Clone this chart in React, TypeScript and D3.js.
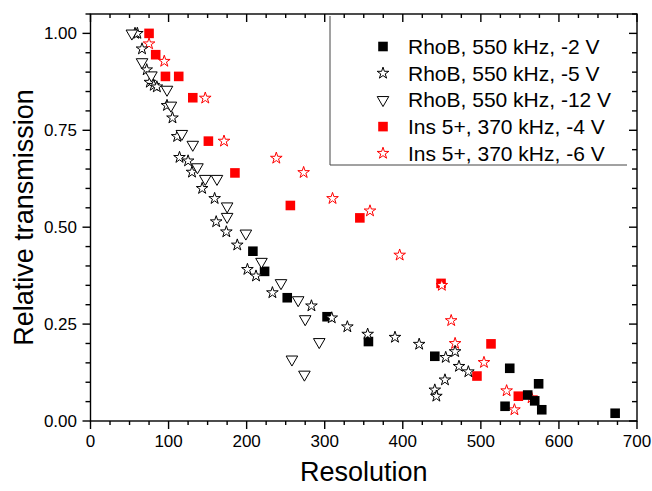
import * as d3 from 'd3';
import React, { useEffect, useRef } from 'react';

// values: [resolution, relative transmission]
const rhobMinus2: [number, number][] = [
    [208, 0.438], [223, 0.386], [252, 0.318], [303, 0.269], [356, 0.205], [441, 0.167], [537, 0.136],
    [531, 0.038], [560, 0.067], [569, 0.052], [574, 0.096], [578, 0.029], [672, 0.020],
];
const rhobMinus5: [number, number][] = [
    [57, 1.0], [60, 1.0], [66, 0.96], [72, 0.906], [76, 0.874], [81, 0.866], [85, 0.862], [98, 0.814],
    [105, 0.782], [111, 0.734], [114, 0.68], [125, 0.671], [130, 0.642], [143, 0.6], [159, 0.574],
    [161, 0.514], [174, 0.488], [188, 0.454], [201, 0.391], [212, 0.374], [233, 0.331], [283, 0.297],
    [309, 0.266], [329, 0.243], [355, 0.224], [390, 0.216], [421, 0.198], [441, 0.080], [443, 0.064],
    [454, 0.106], [455, 0.164], [467, 0.179], [472, 0.141], [484, 0.127],
];
const rhobMinus12: [number, number][] = [
    [53, 1.0], [66, 0.926], [78, 0.892], [98, 0.855], [103, 0.814], [117, 0.741], [131, 0.713],
    [137, 0.655], [147, 0.625], [162, 0.625], [175, 0.554], [175, 0.527], [199, 0.484], [219, 0.411],
    [244, 0.356], [266, 0.312], [275, 0.263], [293, 0.204], [258, 0.159], [274, 0.120],
];
const insMinus4: [number, number][] = [
    [75, 1.0], [83.5, 0.945], [96, 0.889], [113, 0.889], [131, 0.834], [151, 0.722], [185, 0.64],
    [256, 0.556], [345, 0.524], [449, 0.355], [513, 0.199], [495, 0.116], [548, 0.064],
];
const insMinus6: [number, number][] = [
    [75, 0.973], [94.5, 0.928], [147, 0.833], [171, 0.722], [238, 0.678], [273, 0.641], [310, 0.574],
    [358, 0.542], [396, 0.428], [450, 0.35], [462, 0.259], [467, 0.2], [504, 0.151], [533, 0.078],
    [543, 0.029], [565, 0.06],
];

const xTicks = [0, 100, 200, 300, 400, 500, 600, 700];
const yTicks = [0, 0.25, 0.5, 0.75, 1.0];

const legendLabels = [
    'RhoB, 550 kHz, -2 V',
    'RhoB, 550 kHz, -5 V',
    'RhoB, 550 kHz, -12 V',
    'Ins 5+, 370 kHz, -4 V',
    'Ins 5+, 370 kHz, -6 V',
];

const WIDTH = 652;
const HEIGHT = 491;
const FONT = '"Liberation Sans", Arial, sans-serif';

export default function App() {
    const svgRef = useRef<SVGSVGElement>(null);

    useEffect(() => {
        const svg = d3.select(svgRef.current);
        svg.selectAll('*').remove();

        const left = 90.5, right = 637, top = 14, bottom = 421;
        const x = d3.scaleLinear().domain([0, 700]).range([left, right]);
        const y = d3.scaleLinear().domain([0, 1.05]).range([bottom, top]);

        // marker painters, one per series style
        const square = d3.symbol().type(d3.symbolSquare).size(92)();
        const star = d3.symbol().type(d3.symbolStar).size(42)();
        const tri = d3.symbol().type(d3.symbolTriangle).size(58)();

        const styles = [
            { path: square, fill: '#000', stroke: 'none', rot: 0 },
            { path: star, fill: '#fff', stroke: '#000', rot: 0 },
            { path: tri, fill: '#fff', stroke: '#000', rot: 180 },
            { path: square, fill: '#f00', stroke: 'none', rot: 0 },
            { path: star, fill: '#fff', stroke: '#f00', rot: 0 },
        ];
        const seriesData = [rhobMinus2, rhobMinus5, rhobMinus12, insMinus4, insMinus6];

        // draw order: red first, black squares over them, open symbols on top
        const order = [3, 4, 0, 1, 2];
        order.forEach((si) => {
            const st = styles[si];
            svg.append('g')
                .selectAll('path')
                .data(seriesData[si])
                .join('path')
                .attr('d', st.path)
                .attr('transform', (d) => `translate(${x(d[0])},${y(d[1])}) rotate(${st.rot})`)
                .attr('fill', st.fill)
                .attr('stroke', st.stroke)
                .attr('stroke-width', 1);
        });

        // axes
        const axisG = svg.append('g').attr('stroke', '#000').attr('stroke-width', 1.4);
        const xMinor = d3.range(0, 701, 25);
        const yMinor = d3.range(0, 1.051, 0.05);

        // bottom (outward) and top (inward)
        xMinor.forEach((v) => {
            const major = v % 100 === 0;
            axisG.append('line').attr('x1', x(v)).attr('x2', x(v))
                .attr('y1', bottom).attr('y2', bottom + (major ? 8 : 4));
            axisG.append('line').attr('x1', x(v)).attr('x2', x(v))
                .attr('y1', top).attr('y2', top + (major ? 8 : 4));
        });
        // left (outward) and right (inward)
        yMinor.forEach((v) => {
            const major = Math.abs(v / 0.25 - Math.round(v / 0.25)) < 1e-6;
            axisG.append('line').attr('y1', y(v)).attr('y2', y(v))
                .attr('x1', left).attr('x2', left - (major ? 8 : 5));
            axisG.append('line').attr('y1', y(v)).attr('y2', y(v))
                .attr('x1', right).attr('x2', right - (major ? 8 : 5));
        });
        axisG.append('rect')
            .attr('x', left).attr('y', top)
            .attr('width', right - left).attr('height', bottom - top)
            .attr('fill', 'none');

        svg.append('g')
            .selectAll('text')
            .data(xTicks)
            .join('text')
            .attr('x', (d) => x(d))
            .attr('y', 447)
            .attr('text-anchor', 'middle')
            .attr('font-family', FONT)
            .attr('font-size', 17)
            .text((d) => d);

        svg.append('g')
            .selectAll('text')
            .data(yTicks)
            .join('text')
            .attr('x', 77)
            .attr('y', (d) => y(d) + 6)
            .attr('text-anchor', 'end')
            .attr('font-family', FONT)
            .attr('font-size', 17)
            .text((d) => d3.format('.2f')(d));

        svg.append('text')
            .attr('x', (left + right) / 2)
            .attr('y', 481)
            .attr('text-anchor', 'middle')
            .attr('font-family', FONT)
            .attr('font-size', 27)
            .text('Resolution');

        svg.append('text')
            .attr('transform', `translate(33,${(top + bottom) / 2}) rotate(-90)`)
            .attr('text-anchor', 'middle')
            .attr('font-family', FONT)
            .attr('font-size', 27)
            .text('Relative transmission');

        // legend: only left and bottom border are drawn
        const legend = svg.append('g');
        legend.append('path')
            .attr('d', 'M330,16 V165 H627')
            .attr('fill', 'none')
            .attr('stroke', '#444')
            .attr('stroke-width', 1);
        legendLabels.forEach((label, i) => {
            const ly = 46.5 + i * 26.7;
            const st = styles[i];
            legend.append('path')
                .attr('d', st.path)
                .attr('transform', `translate(383,${ly}) rotate(${st.rot})`)
                .attr('fill', st.fill)
                .attr('stroke', st.stroke)
                .attr('stroke-width', 1);
            legend.append('text')
                .attr('x', 408)
                .attr('y', ly + 7.5)
                .attr('font-family', FONT)
                .attr('font-size', 21)
                .text(label);
        });
    }, []);

    return (
        <svg
            ref={svgRef}
            width={WIDTH}
            height={HEIGHT}
            style={{ position: 'absolute', left: 0, top: 0, background: '#fff' }}
        />
    );
}
